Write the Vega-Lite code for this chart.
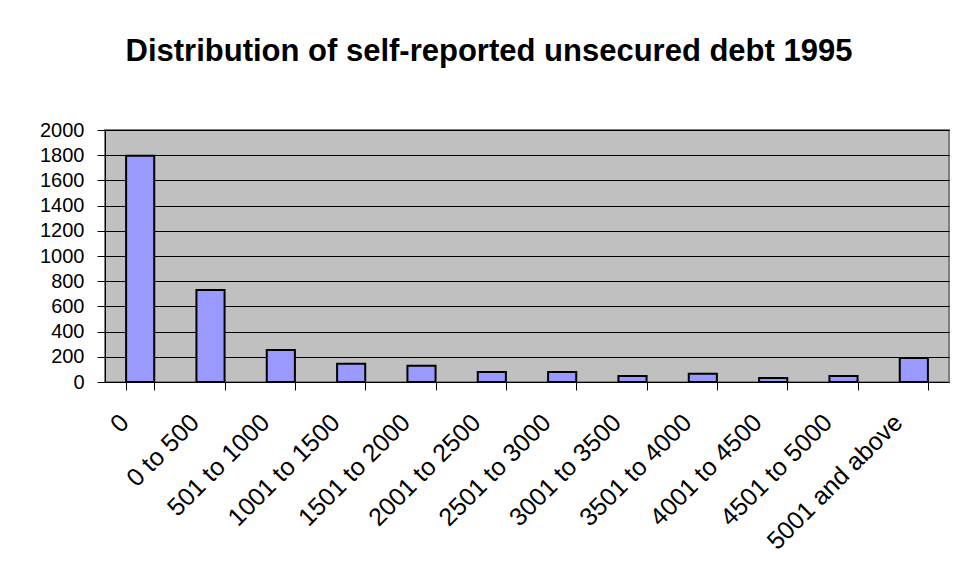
{
  "$schema": "https://vega.github.io/schema/vega-lite/v6.json",
  "width": 844,
  "height": 252,
  "autosize": {"type": "none"},
  "padding": {"left": 105, "top": 130, "right": 14, "bottom": 199},
  "background": "white",
  "title": {
    "text": "Distribution of self-reported unsecured debt 1995",
    "font": "Liberation Sans",
    "fontSize": 31,
    "fontWeight": "bold",
    "color": "black",
    "anchor": "middle",
    "frame": "group",
    "dx": -38,
    "offset": 52
  },
  "data": {
    "values": [
      {"range": "0", "count": 1795},
      {"range": "0 to 500", "count": 730},
      {"range": "501 to 1000", "count": 254},
      {"range": "1001 to 1500", "count": 145},
      {"range": "1501 to 2000", "count": 129},
      {"range": "2001 to 2500", "count": 79},
      {"range": "2501 to 3000", "count": 79},
      {"range": "3001 to 3500", "count": 48},
      {"range": "3501 to 4000", "count": 66},
      {"range": "4001 to 4500", "count": 32},
      {"range": "4501 to 5000", "count": 48},
      {"range": "5001 and above", "count": 190}
    ]
  },
  "mark": {"type": "bar", "color": "#9999FF", "stroke": "black", "strokeWidth": 2},
  "encoding": {
    "x": {
      "field": "range",
      "type": "nominal",
      "sort": null,
      "scale": {"paddingInner": 0.6, "paddingOuter": 0.3},
      "axis": {
        "title": null,
        "labelAngle": -45,
        "labelAlign": "right",
        "labelBaseline": "middle",
        "labelFont": "Liberation Sans",
        "labelFontSize": 25,
        "labelColor": "black",
        "labelPadding": 28,
        "labelOffset": -16,
        "tickBand": "extent",
        "tickSize": 8,
        "tickColor": "black",
        "domainColor": "black",
        "domainWidth": 1
      }
    },
    "y": {
      "field": "count",
      "type": "quantitative",
      "scale": {"domain": [0, 2000], "nice": false},
      "axis": {
        "title": null,
        "format": "d",
        "values": [0, 200, 400, 600, 800, 1000, 1200, 1400, 1600, 1800, 2000],
        "grid": true,
        "gridColor": "black",
        "gridWidth": 1,
        "labelFont": "Liberation Sans",
        "labelFontSize": 20,
        "labelColor": "black",
        "labelPadding": 13,
        "tickSize": 8,
        "tickColor": "black",
        "domainColor": "black"
      }
    }
  },
  "config": {
    "view": {"fill": "#C0C0C0", "stroke": "#808080", "strokeWidth": 2}
  }
}
